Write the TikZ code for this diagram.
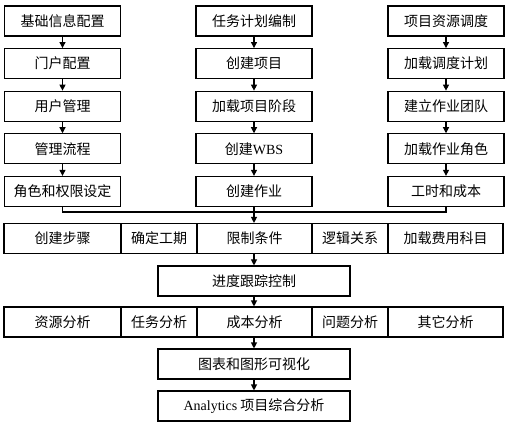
\documentclass[tikz,border=0pt]{standalone}
\usepackage{fontspec}
\usepackage{tikz}
\usetikzlibrary{arrows.meta, positioning}
\setmainfont{Liberation Serif}
\newfontfamily\cjk{Noto Sans CJK SC}

\begin{document}
\begin{tikzpicture}[x=1pt, y=-1pt,
    stepbox/.style={draw, line width=1.1pt, minimum width=116pt, minimum height=30pt,
                    inner sep=0pt, font=\fontsize{14}{16}\selectfont\cjk},
    cell/.style={stepbox, minimum width=#1},
    arr/.style={line width=1.1pt, -{Triangle[length=6pt, width=6pt]}},
    link/.style={line width=1.1pt}]
  \useasboundingbox (0,0) rectangle (512,425);

  % three setup columns
  \node[stepbox] (l1) at (62.5,21) {基础信息配置};
  \node[stepbox, below=11.5pt of l1] (l2) {门户配置};
  \node[stepbox, below=11.5pt of l2] (l3) {用户管理};
  \node[stepbox, below=11.5pt of l3] (l4) {管理流程};
  \node[stepbox, below=11.5pt of l4] (l5) {角色和权限设定};

  \node[stepbox] (m1) at (254,21) {任务计划编制};
  \node[stepbox, below=11.5pt of m1] (m2) {创建项目};
  \node[stepbox, below=11.5pt of m2] (m3) {加载项目阶段};
  \node[stepbox, below=11.5pt of m3] (m4) {创建{\rmfamily WBS}};
  \node[stepbox, below=11.5pt of m4] (m5) {创建作业};

  \node[stepbox] (r1) at (446,21) {项目资源调度};
  \node[stepbox, below=11.5pt of r1] (r2) {加载调度计划};
  \node[stepbox, below=11.5pt of r2] (r3) {建立作业团队};
  \node[stepbox, below=11.5pt of r3] (r4) {加载作业角色};
  \node[stepbox, below=11.5pt of r4] (r5) {工时和成本};

  % planning row
  \node[cell=117pt] (c1) at (62.5,238.5) {创建步骤};
  \node[cell=76pt]  (c2) at (159,238.5) {确定工期};
  \node[cell=115pt] (c3) at (254.5,238.5) {限制条件};
  \node[cell=76pt]  (c4) at (350,238.5) {逻辑关系};
  \node[cell=115pt] (c5) at (445.5,238.5) {加载费用科目};

  \node[cell=192pt] (track) at (254,281) {进度跟踪控制};

  % analysis row
  \node[cell=117pt] (a1) at (62.5,322) {资源分析};
  \node[cell=76pt]  (a2) at (159,322) {任务分析};
  \node[cell=115pt] (a3) at (254.5,322) {成本分析};
  \node[cell=76pt]  (a4) at (350,322) {问题分析};
  \node[cell=115pt] (a5) at (445.5,322) {其它分析};

  \node[cell=192pt] (chart) at (254,364) {图表和图形可视化};
  \node[cell=192pt] (final) at (254,406) {{\rmfamily Analytics} 项目综合分析};

  % arrows
  \foreach \c in {l, m, r} {
    \draw[arr] (\c1) -- (\c2);
    \draw[arr] (\c2) -- (\c3);
    \draw[arr] (\c3) -- (\c4);
    \draw[arr] (\c4) -- (\c5);
  }
  \coordinate (join) at (254,212);
  \draw[link] (l5.south) |- (join) -| (r5.south);
  \draw[arr] (m5.south) -- (m5.south |- c3.north);
  \draw[arr] (c3.south -| track) -- (track);
  \draw[arr] (track) -- (track.south |- a3.north);
  \draw[arr] (a3.south -| chart) -- (chart);
  \draw[arr] (chart) -- (final);
\end{tikzpicture}
\end{document}
